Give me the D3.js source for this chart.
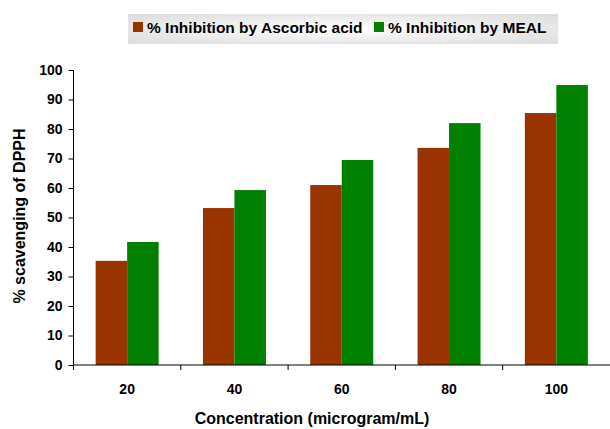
<!DOCTYPE html>
<html>
<head>
<meta charset="utf-8">
<script src="https://cdn.jsdelivr.net/npm/d3@7/dist/d3.min.js"></script>
<style>
  html, body { margin: 0; padding: 0; background: #fff; }
  svg { display: block; font-family: "Liberation Sans", Arial, sans-serif; }
</style>
</head>
<body>
<svg id="chart" width="610" height="429"></svg>
<script>
// Concentrations (microgram/mL) and % DPPH scavenging for each sample
const categories = ["20", "40", "60", "80", "100"];
const ascorbic = [35.3, 53.2, 61.0, 73.6, 85.4];
const meal = [41.7, 59.3, 69.5, 82.0, 94.9];
const seriesNames = ["% Inhibition by Ascorbic acid", "% Inhibition by MEAL"];
const seriesColors = ["#993300", "#008000"];
const yTicks = [0, 10, 20, 30, 40, 50, 60, 70, 80, 90, 100];

const svg = d3.select("#chart");
const plot = { left: 73.5, right: 610, top: 70, bottom: 365 };

const x = d3.scaleBand().domain(categories).range([plot.left, plot.right]).paddingInner(0).paddingOuter(0);
const y = d3.scaleLinear().domain([0, 100]).range([plot.bottom, plot.top]);
const groupWidth = x.bandwidth() * 0.587;
const xs = d3.scaleBand().domain([0, 1]).range([0, groupWidth]);

const rows = categories.map((c, i) => ({ c, vals: [ascorbic[i], meal[i]] }));

// Bars
const groups = svg.append("g").selectAll("g").data(rows).join("g")
  .attr("transform", d => `translate(${x(d.c) + (x.bandwidth() - groupWidth) / 2},0)`);
groups.selectAll("rect").data(d => d.vals.map((v, k) => ({ v, k }))).join("rect")
  .attr("x", d => xs(d.k))
  .attr("width", xs.bandwidth())
  .attr("y", d => y(d.v))
  .attr("height", d => y(0) - y(d.v))
  .attr("fill", d => seriesColors[d.k]);

// Y axis
const yAxis = svg.append("g").attr("transform", `translate(${plot.left},0)`)
  .call(d3.axisLeft(y).tickValues(yTicks).tickSize(5).tickPadding(6));
yAxis.select(".domain").attr("stroke", "#000").attr("d", `M-0,${plot.top}V${plot.bottom}`);
yAxis.selectAll("text").attr("font-size", 14).attr("font-weight", "bold").attr("fill", "#000");

// X axis with ticks at category boundaries
const xAxisG = svg.append("g").attr("transform", `translate(0,${plot.bottom})`);
xAxisG.append("line").attr("x1", plot.left).attr("x2", plot.right).attr("stroke", "#000");
const bounds = categories.map(c => x(c));
xAxisG.selectAll("line.tk").data(bounds).join("line").attr("class", "tk")
  .attr("x1", d => d).attr("x2", d => d).attr("y1", 0).attr("y2", 5).attr("stroke", "#000");
xAxisG.selectAll("text").data(categories).join("text")
  .attr("x", d => x(d) + x.bandwidth() / 2).attr("y", 29)
  .attr("text-anchor", "middle").attr("font-size", 14).attr("font-weight", "bold").text(d => d);

// Axis titles
svg.append("text").attr("x", 312).attr("y", 424).attr("text-anchor", "middle")
  .attr("font-size", 16).attr("font-weight", "bold").text("Concentration (microgram/mL)");
svg.append("text").attr("transform", "translate(25,216) rotate(-90)").attr("text-anchor", "middle")
  .attr("font-size", 16).attr("font-weight", "bold").text("% scavenging of DPPH");

// Legend
const defs = svg.append("defs");
const grad = defs.append("radialGradient").attr("id", "lg").attr("cx", "50%").attr("cy", "50%").attr("r", "70%");
grad.append("stop").attr("offset", "0%").attr("stop-color", "#ffffff");
grad.append("stop").attr("offset", "100%").attr("stop-color", "#dcdcdc");
const legend = svg.append("g");
legend.append("rect").attr("x", 128).attr("y", 14).attr("width", 430).attr("height", 30).attr("fill", "url(#lg)");
const legendX = [133, 374];
seriesNames.forEach((name, i) => {
  legend.append("rect").attr("x", legendX[i]).attr("y", 22).attr("width", 10).attr("height", 10).attr("fill", seriesColors[i]);
  legend.append("text").attr("x", legendX[i] + 14).attr("y", 33).attr("font-size", 15.5)
    .attr("font-weight", "bold").text(name);
});
</script>
</body>
</html>
